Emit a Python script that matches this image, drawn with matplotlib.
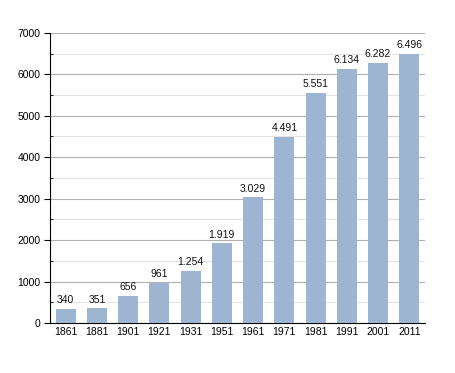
import matplotlib
matplotlib.use("Agg")
import matplotlib.pyplot as plt
from matplotlib.ticker import MultipleLocator

years = ["1861", "1881", "1901", "1921", "1931", "1951",
         "1961", "1971", "1981", "1991", "2001", "2011"]
population = [340, 351, 656, 961, 1254, 1919, 3029, 4491, 5551, 6134, 6282, 6496]
bar_labels = ["340", "351", "656", "961", "1.254", "1.919",
              "3.029", "4.491", "5.551", "6.134", "6.282", "6.496"]

plt.rcParams["font.family"] = ["Liberation Sans", "DejaVu Sans"]

fig = plt.figure(figsize=(4.55, 3.73), dpi=100, facecolor="white")
ax = fig.add_axes([0.110, 0.134, 0.824, 0.778])

x = range(len(years))
ax.bar(x, population, width=0.64, color="#9db5d0", zorder=3)
for xi, v, lab in zip(x, population, bar_labels):
    ax.text(xi, v + 90, lab, ha="center", va="bottom", fontsize=7.5, color="#111111")

ax.set_xlim(-0.5, len(years) - 0.5)
ax.set_ylim(0, 7000)
ax.set_xticks(list(x))
ax.set_xticklabels(years)
ax.yaxis.set_major_locator(MultipleLocator(1000))
ax.yaxis.set_minor_locator(MultipleLocator(500))

# major lines darker, half steps faint
ax.grid(axis="y", which="major", color="#b0b0b0", linewidth=0.8, zorder=0)
ax.grid(axis="y", which="minor", color="#e4e4e4", linewidth=0.8, zorder=0)

for side in ["top", "right"]:
    ax.spines[side].set_visible(False)
ax.spines["left"].set_color("black")
ax.spines["bottom"].set_color("black")
ax.tick_params(axis="x", labelsize=7.5, length=0, pad=3)
ax.tick_params(axis="y", which="major", labelsize=7.5, length=4, direction="out", pad=3)
ax.tick_params(axis="y", which="minor", length=2, direction="in")

fig.savefig("out.png", dpi=100)
